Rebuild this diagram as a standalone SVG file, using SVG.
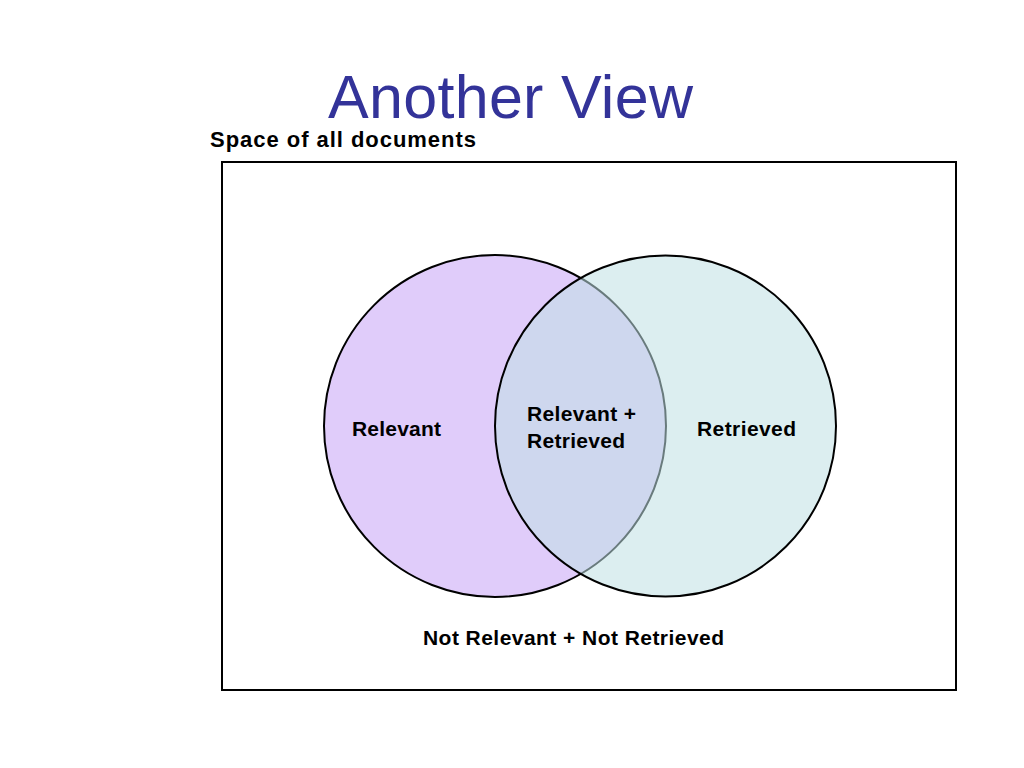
<svg xmlns="http://www.w3.org/2000/svg" width="1024" height="768" viewBox="0 0 1024 768">
<style>
.lbl{font-family:"Liberation Sans",Arial,sans-serif;font-weight:bold;font-size:21px;fill:#000}
.title{font-family:"Liberation Sans",Arial,sans-serif;font-size:61px;fill:#333399}
</style>
<rect width="1024" height="768" fill="#fff"/>
<text class="title" x="328" y="118" textLength="365">Another View</text>
<text class="lbl" x="210" y="147" style="font-size:22px" textLength="266">Space of all documents</text>
<g id="space"><rect x="222" y="162" width="734" height="528" fill="none" stroke="#000" stroke-width="2"/></g>
<g id="relevant">
<circle cx="495" cy="426" r="171" fill="#E0CCFA" stroke="#000" stroke-width="2"/>
<text class="lbl" x="352" y="436" textLength="89">Relevant</text>
</g>
<g id="retrieved">
<circle cx="665.5" cy="426" r="170.5" fill="#BFE0E4" fill-opacity="0.55" stroke="#000" stroke-width="2"/>
<text class="lbl" x="697" y="436" textLength="99">Retrieved</text>
</g>
<g id="both">
<text class="lbl" x="527" y="421" textLength="109">Relevant +</text>
<text class="lbl" x="527" y="448" textLength="98">Retrieved</text>
</g>
<g id="neither">
<text class="lbl" x="423" y="645" textLength="301">Not Relevant + Not Retrieved</text>
</g>
<g id="connectors"/>
</svg>
